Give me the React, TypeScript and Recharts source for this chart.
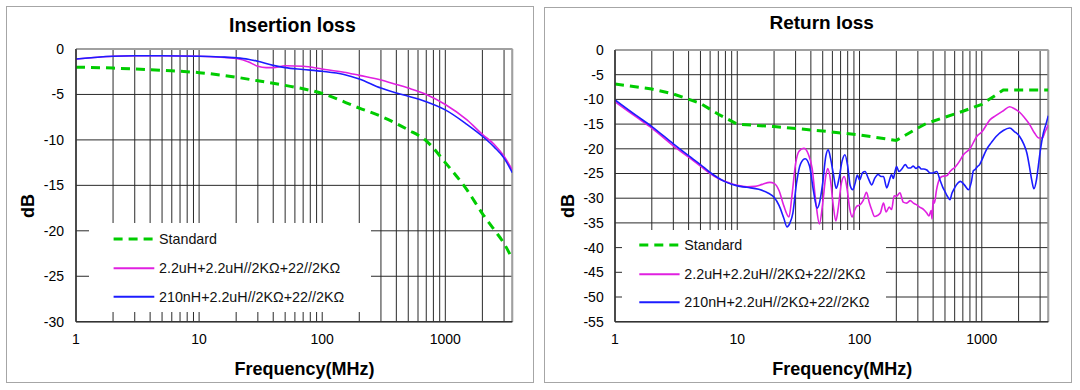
import React from 'react';
import { LineChart, Line, XAxis, YAxis, CartesianGrid, Legend, ReferenceLine } from 'recharts';

type Pt = [number, number];

// ---------- axes ----------
const FREQ_TICKS = [1, 2, 3, 4, 5, 6, 7, 8, 9, 10, 20, 30, 40, 50, 60, 70, 80, 90, 100, 200, 300, 400, 500, 600, 700, 800, 900, 1000, 2000, 3000];
const FREQ_LABELS = [1, 10, 100, 1000];
const FREQ_MIN = 1;
const FREQ_MAX = 3500;
const IL_TICKS = [0, -5, -10, -15, -20, -25, -30];
const RL_TICKS = [0, -5, -10, -15, -20, -25, -30, -35, -40, -45, -50, -55];

// ---------- series ----------
const SERIES_NAMES = ['Standard', '2.2uH+2.2uH//2KΩ+22//2KΩ', '210nH+2.2uH//2KΩ+22//2KΩ'];
const SERIES_COLORS = ['#00cc00', '#e020e0', '#1c1cff'];

// Insertion loss [MHz, dB]
const IL_STANDARD: Pt[] = [[1, -2.0], [2, -2.1], [3, -2.2], [5, -2.35], [10, -2.6], [20, -3.1], [30, -3.5], [50, -4.0], [100, -4.9], [200, -6.5], [300, -7.4], [400, -8.2], [500, -8.9], [700, -10.1], [1000, -12.5], [1500, -15.5], [2000, -18.1], [2500, -19.9], [3000, -21.4], [3500, -23.1]];
const IL_22UH: Pt[] = [[1, -1.1], [1.5, -0.9], [2, -0.8], [3, -0.75], [5, -0.75], [10, -0.8], [15, -0.9], [20, -1.05], [25, -1.4], [30, -1.9], [35, -2.05], [40, -2.05], [50, -1.85], [70, -1.9], [100, -2.2], [150, -2.55], [200, -2.9], [300, -3.4], [400, -3.9], [500, -4.3], [700, -5.0], [1000, -6.1], [1500, -7.8], [2000, -9.4], [2500, -10.5], [3000, -11.8], [3500, -13.3]];
const IL_210NH: Pt[] = [[1, -1.1], [2, -0.8], [3, -0.75], [5, -0.75], [10, -0.8], [15, -0.88], [20, -0.97], [25, -1.12], [30, -1.35], [40, -1.8], [50, -2.05], [70, -2.25], [100, -2.45], [150, -2.8], [200, -3.3], [300, -4.3], [400, -4.85], [500, -5.2], [700, -5.8], [1000, -6.7], [1500, -8.3], [2000, -9.6], [2500, -10.8], [3000, -12.0], [3500, -13.6]];

// Return loss [MHz, dB]
const RL_STANDARD: Pt[] = [[1, -6.9], [2, -7.9], [3, -8.9], [5, -10.8], [7, -13.0], [10, -15.0], [20, -15.5], [50, -16.4], [100, -17.2], [200, -18.3], [300, -15.8], [350, -14.9], [500, -13.6], [700, -12.4], [1000, -11.0], [1500, -8.1], [3500, -8.1]];
const RL_22UH: Pt[] = [[1, -10.5], [1.5, -13.6], [2, -15.8], [3, -19.4], [4, -21.7], [5, -23.5], [6, -25.0], [7, -26.0], [8, -26.6], [10, -27.4], [12, -27.7], [14, -27.6], [16, -27.2], [18.5, -26.8], [20, -27.0], [22, -28.5], [24, -31.5], [26.5, -33.8], [28, -29.5], [30, -23], [32, -20.5], [35, -19.9], [38, -21], [41, -24], [44, -31], [47, -35.2], [50, -31], [53, -25.5], [55, -24.0], [58, -26.5], [61, -31.5], [64, -34.6], [67, -32], [71, -27], [75, -25.6], [79, -28], [83, -32], [87, -33.8], [91, -32.5], [95, -31.6], [100, -31.4], [107, -30.5], [114, -28.8], [120, -30.8], [126, -32.4], [133, -33.7], [140, -33.5], [148, -33], [157, -31], [165, -32.8], [175, -31.8], [183, -32.3], [192, -29.5], [201, -29.6], [214, -28.9], [228, -30.8], [243, -31], [260, -30.5], [276, -31], [292, -31.3], [311, -31.8], [335, -32.3], [355, -33], [370, -33.6], [385, -32.5], [392, -34.2], [400, -30.3], [410, -31], [425, -28.5], [444, -26.5], [472, -25.6], [500, -25.5], [520, -25.4], [550, -24.6], [570, -24.2], [600, -23.8], [670, -22.2], [707, -21.2], [800, -20.0], [910, -17.5], [1000, -16.6], [1170, -14.1], [1300, -13.3], [1500, -12.3], [1690, -11.5], [1850, -11.9], [2040, -12.6], [2250, -13.8], [2480, -15.2], [2700, -16.8], [2930, -17.8], [3130, -17.8], [3300, -16.5], [3500, -15.2]];
const RL_210NH: Pt[] = [[1, -10.1], [1.5, -13.3], [2, -15.5], [3, -19.0], [4, -21.4], [5, -23.2], [6, -24.8], [7, -25.9], [8, -26.7], [10, -27.5], [12, -27.8], [15, -28.2], [18, -29.0], [20, -29.8], [22, -31.5], [24, -34], [25.5, -35.8], [27, -35], [28.5, -33], [30.5, -27], [33, -23], [36, -22], [39, -23.5], [42, -28.5], [45, -32], [47, -31], [50, -26.9], [53, -21.5], [55.5, -20.2], [58, -22], [61, -25], [64.5, -28], [68, -26], [72, -22.5], [76, -21.2], [80, -23.5], [84, -27.5], [88, -28.3], [92, -27], [96, -25.3], [100, -26.3], [106, -24.8], [111, -24.6], [118, -26], [126, -27.3], [133, -26], [142, -25.2], [150, -25.6], [157, -25.6], [167, -27.9], [175, -26.5], [183, -25.2], [189, -26], [195, -24.6], [201, -23.6], [210, -24.6], [220, -24.2], [237, -23.2], [250, -23.9], [261, -23.9], [275, -23.5], [290, -24], [305, -23.6], [320, -24.1], [335, -24.1], [355, -24.3], [380, -24.9], [397, -24.9], [428, -24.6], [455, -26.3], [480, -27.8], [501, -28.7], [520, -29.5], [550, -30.3], [570, -29], [588, -28.3], [620, -27.3], [670, -26.6], [720, -27.3], [780, -28.3], [820, -26.8], [855, -24.4], [880, -24.2], [920, -23.6], [960, -23.2], [1000, -22.3], [1090, -20.2], [1200, -18.7], [1310, -17.5], [1500, -16.3], [1690, -15.8], [1850, -16.5], [2040, -17.5], [2200, -19], [2340, -20.9], [2450, -23.5], [2560, -26.3], [2670, -28.1], [2800, -26.3], [2900, -23.5], [2990, -20.9], [3190, -16.8], [3350, -15], [3500, -13.3]];

const toRows = (pts: Pt[]) => pts.map(([f, v]) => ({ f, v }));

const FONT = '"Liberation Sans", Arial, Helvetica, sans-serif';
const GRID = '#2a2a2a';
const FRAME = '#a0a0a0';

const fmtFreq = (v: number) => (FREQ_LABELS.includes(v) ? String(v) : '');

function LegendBox({ width, height, rows, sx1, sx2, tx }: { width: number; height: number; rows: number[]; sx1: number; sx2: number; tx: number }) {
  return (
    <svg width={width} height={height} style={{ display: 'block', background: '#fff' }}>
      {SERIES_NAMES.map((name, i) => (
        <g key={name}>
          <line x1={sx1} x2={sx2} y1={rows[i]} y2={rows[i]} stroke={SERIES_COLORS[i]} strokeWidth={i === 0 ? 3 : 2} strokeDasharray={i === 0 ? '9 6' : undefined} />
          <text x={tx} y={rows[i]} dominantBaseline="central" fontFamily={FONT} fontSize={14.3} fill="#111">{name}</text>
        </g>
      ))}
    </svg>
  );
}

const tickStyle = { fontSize: 14, fill: '#000', fontFamily: FONT };

function seriesLines(data: Pt[][], types: ('monotone' | 'linear')[]) {
  return data.map((d, i) => (
    <Line
      key={SERIES_NAMES[i]}
      data={toRows(d)}
      dataKey="v"
      name={SERIES_NAMES[i]}
      type={types[i]}
      stroke={SERIES_COLORS[i]}
      strokeWidth={i === 0 ? 3 : 1.6}
      strokeDasharray={i === 0 ? '9 6' : undefined}
      dot={false}
      activeDot={false}
      isAnimationActive={false}
    />
  ));
}

export default function App() {
  return (
    <div style={{ position: 'absolute', left: 0, top: 0, width: 1080, height: 390, background: '#fff', overflow: 'hidden', fontFamily: FONT }}>
      <div style={{ position: 'absolute', left: 6, top: 6, width: 528, height: 377, border: '1px solid #a6a6a6', boxSizing: 'border-box' }} />
      <div style={{ position: 'absolute', left: 544, top: 7, width: 528, height: 376, border: '1px solid #a6a6a6', boxSizing: 'border-box' }} />

      {/* Insertion loss */}
      <div style={{ position: 'absolute', left: 0, top: 0, width: 540, height: 390 }}>
        <LineChart width={540} height={390} margin={{ top: 49, right: 27.7, left: 16, bottom: 38.3 }}>
          <CartesianGrid stroke={GRID} strokeWidth={1} />
          <XAxis dataKey="f" type="number" scale="log" domain={[FREQ_MIN, FREQ_MAX]} allowDataOverflow ticks={FREQ_TICKS} interval={0} tickFormatter={fmtFreq} tickLine={false} tickSize={0} tickMargin={12.6} height={30} axisLine={{ stroke: '#333', strokeWidth: 1.5 }} tick={tickStyle} />
          <YAxis type="number" domain={[-30, 0]} allowDataOverflow ticks={IL_TICKS} interval={0} width={60} tickLine={false} tickSize={0} tickMargin={12} axisLine={{ stroke: '#333', strokeWidth: 1.5 }} tick={tickStyle} />
          <ReferenceLine y={0} stroke={FRAME} strokeWidth={2} />
          <ReferenceLine x={FREQ_MAX} stroke={FRAME} strokeWidth={2} />
          {seriesLines([IL_STANDARD, IL_22UH, IL_210NH], ['monotone', 'monotone', 'monotone'])}
          <Legend layout="vertical" align="center" verticalAlign="middle" wrapperStyle={{ left: 89, top: 223, width: 282, height: 89, background: '#fff' }} content={() => <LegendBox width={282} height={89} rows={[16, 45.3, 73.7]} sx1={24.6} sx2={65.3} tx={70} />} />
          <text x={292.4} y={31.7} textAnchor="middle" fontFamily={FONT} fontSize={19.5} fontWeight="bold" fill="#000">Insertion loss</text>
          <text x={304.4} y={374.5} textAnchor="middle" fontFamily={FONT} fontSize={18} fontWeight="bold" fill="#000">Frequency(MHz)</text>
          <text x={0} y={0} transform="translate(34.4,206) rotate(-90)" textAnchor="middle" fontFamily={FONT} fontSize={18} fontWeight="bold" fill="#000">dB</text>
        </LineChart>
      </div>

      {/* Return loss */}
      <div style={{ position: 'absolute', left: 540, top: 0, width: 540, height: 390 }}>
        <LineChart width={540} height={390} margin={{ top: 50, right: 31.7, left: 15, bottom: 38.3 }}>
          <CartesianGrid stroke={GRID} strokeWidth={1} />
          <XAxis dataKey="f" type="number" scale="log" domain={[FREQ_MIN, FREQ_MAX]} allowDataOverflow ticks={FREQ_TICKS} interval={0} tickFormatter={fmtFreq} tickLine={false} tickSize={0} tickMargin={12.6} height={30} axisLine={{ stroke: '#333', strokeWidth: 1.5 }} tick={tickStyle} />
          <YAxis type="number" domain={[-55, 0]} allowDataOverflow ticks={RL_TICKS} interval={0} width={60} tickLine={false} tickSize={0} tickMargin={11.3} axisLine={{ stroke: '#333', strokeWidth: 1.5 }} tick={tickStyle} />
          <ReferenceLine y={0} stroke={FRAME} strokeWidth={2} />
          <ReferenceLine x={FREQ_MAX} stroke={FRAME} strokeWidth={2} />
          {seriesLines([RL_STANDARD, RL_22UH, RL_210NH], ['linear', 'monotone', 'monotone'])}
          <Legend layout="vertical" align="center" verticalAlign="middle" wrapperStyle={{ left: 81.7, top: 230, width: 264.3, height: 91, background: '#fff' }} content={() => <LegendBox width={264.3} height={91} rows={[15, 44.3, 72.3]} sx1={17.3} sx2={57.6} tx={62.3} />} />
          <text x={281.7} y={28.5} textAnchor="middle" fontFamily={FONT} fontSize={19} fontWeight="bold" fill="#000">Return loss</text>
          <text x={302.2} y={374.5} textAnchor="middle" fontFamily={FONT} fontSize={18} fontWeight="bold" fill="#000">Frequency(MHz)</text>
          <text x={0} y={0} transform="translate(34.4,206) rotate(-90)" textAnchor="middle" fontFamily={FONT} fontSize={18} fontWeight="bold" fill="#000">dB</text>
        </LineChart>
      </div>
    </div>
  );
}
